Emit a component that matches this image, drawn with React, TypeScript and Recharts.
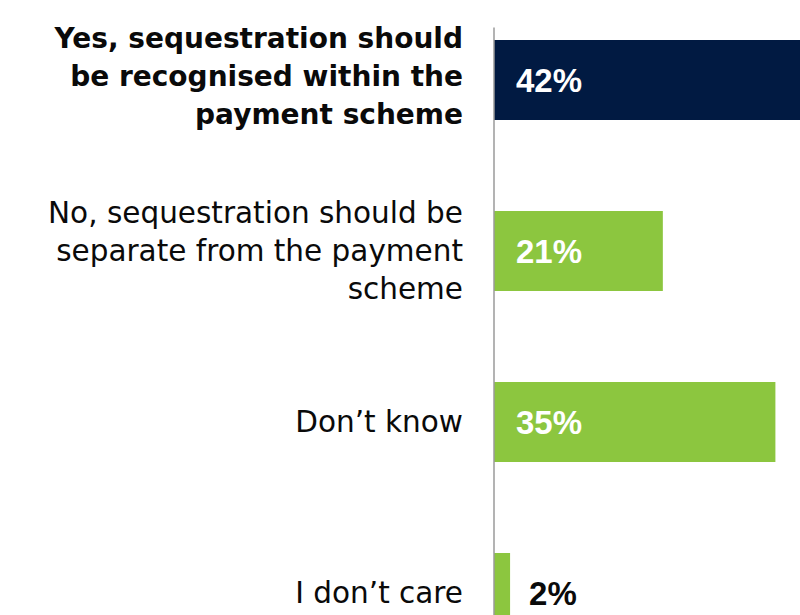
import { BarChart, Bar, XAxis, YAxis, Cell, LabelList, ReferenceLine } from 'recharts';

const categories = [
  'Yes, sequestration should be recognised within the payment scheme',
  'No, sequestration should be separate from the payment scheme',
  'Don’t know',
  'I don’t care',
];

const tickLines = [
  ['Yes, sequestration should', 'be recognised within the', 'payment scheme'],
  ['No, sequestration should be', 'separate from the payment', 'scheme'],
  ['Don’t know'],
  ['I don’t care'],
];

const shares = [42, 21, 35, 2];

const highlighted = 0;

const NAVY = '#011a42';
const GREEN = '#8cc63f';

const data = categories.map((category, i) => ({ category, share: shares[i] }));

const CategoryTick = (props: any) => {
  const { x, y, index } = props;
  const lines = tickLines[index] ?? [String(props.payload?.value ?? '')];
  const bold = index === highlighted;
  const lineHeight = 38;
  const start = -((lines.length - 1) / 2) * lineHeight + (bold ? -3 : 0);
  return (
    <text
      x={x}
      y={y}
      textAnchor="end"
      fill="#0a0a0a"
      fontFamily={'"DejaVu Sans", sans-serif'}
      fontWeight={bold ? 700 : 400}
      fontSize={bold ? 28 : 29.5}
    >
      {lines.map((line, i) => (
        <tspan key={i} x={x} y={y + start + i * lineHeight} dominantBaseline="central">
          {line}
        </tspan>
      ))}
    </text>
  );
};

const ValueLabel = (props: any) => {
  const { x, y, width, height, value } = props;
  const inside = width > 60;
  return (
    <text
      x={inside ? x + 22 : x + width + 19}
      y={y + height / 2}
      dominantBaseline="central"
      fill={inside ? '#fff' : '#0a0a0a'}
      fontFamily={'"Liberation Sans", Arial, sans-serif'}
      fontWeight={700}
      fontSize={33}
    >
      {`${value}%`}
    </text>
  );
};

const axisLine = (props: any) => {
  const x = Number(props.x1);
  const top = Math.min(Number(props.y1), Number(props.y2));
  const bottom = Math.max(Number(props.y1), Number(props.y2));
  return <line x1={x} x2={x} y1={top + 33.5} y2={bottom} stroke="#9a9a9a" strokeWidth={1.5} />;
};

export default function App() {
  return (
    <div
      style={{
        position: 'absolute',
        left: 0,
        top: 0,
        width: 800,
        height: 615,
        overflow: 'hidden',
        background: '#fff',
      }}
    >
      <div style={{ position: 'relative', top: -6.5 }}>
        <BarChart
          width={896}
          height={684}
          data={data}
          layout="vertical"
          margin={{ top: 0, right: 0, bottom: 0, left: 0 }}
        >
          <XAxis type="number" domain={[0, 50]} hide />
          <YAxis
            type="category"
            dataKey="category"
            width={494}
            axisLine={false}
            tickLine={false}
            tickSize={0}
            tickMargin={31}
            tick={<CategoryTick />}
            interval={0}
          />
          <Bar dataKey="share" barSize={80} isAnimationActive={false}>
            {data.map((_, i) => (
              <Cell key={i} fill={i === highlighted ? NAVY : GREEN} />
            ))}
            <LabelList dataKey="share" content={<ValueLabel />} />
          </Bar>
          <ReferenceLine x={0} shape={axisLine} ifOverflow="visible" />
        </BarChart>
      </div>
    </div>
  );
}
